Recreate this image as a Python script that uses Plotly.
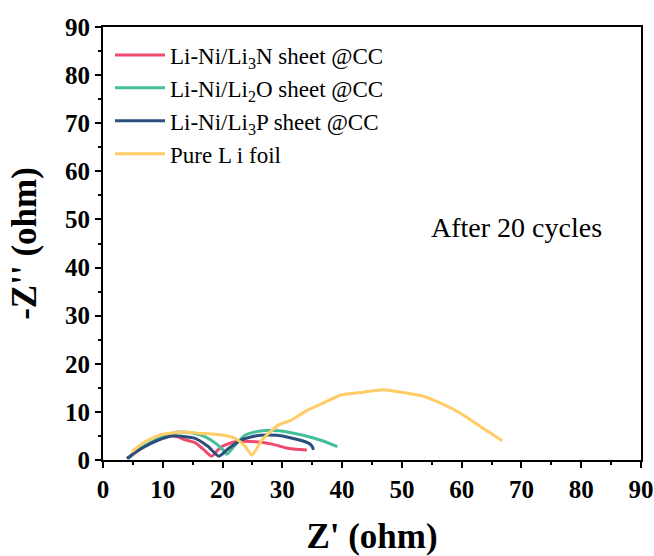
import plotly.graph_objects as go

# Nyquist data after 20 cycles (Z' and -Z'' in ohm)
li3n_x = [4.2, 5.5, 7.0, 9.0, 10.9, 12.5, 13.7, 15.4, 16.8, 18.2, 19.0, 19.9, 22.1, 25.5, 28.3, 31.1, 34.1]
li3n_y = [0.3, 1.6, 2.8, 4.2, 5.0, 4.8, 4.2, 3.6, 2.2, 0.8, 1.8, 2.8, 3.8, 3.8, 3.3, 2.4, 2.1]

li2o_x = [4.2, 5.5, 7.0, 9.0, 11.0, 12.6, 15.0, 17.1, 18.8, 20.0, 20.7, 22.1, 23.8, 26.6, 29.4, 33.3, 36.7, 39.2]
li2o_y = [0.3, 1.8, 3.0, 4.3, 5.3, 5.8, 5.6, 4.8, 3.5, 2.2, 1.2, 3.1, 5.2, 6.1, 6.1, 5.2, 4.0, 2.8]

li3p_x = [4.0, 5.3, 7.0, 9.0, 11.5, 13.5, 15.4, 17.6, 19.4, 21.0, 23.2, 26.0, 29.4, 32.7, 34.4, 35.0, 35.2]
li3p_y = [0.3, 1.5, 2.8, 4.0, 5.0, 4.9, 4.5, 2.8, 0.8, 2.4, 4.2, 5.1, 5.1, 4.2, 3.5, 2.8, 2.1]

li_x = [4.8, 7.0, 9.8, 13.2, 16.5, 19.9, 22.1, 23.8, 24.9, 26.6, 29.4, 31.5, 34.0, 36.8, 39.8, 43.5, 47.0,
        50.3, 53.7, 56.5, 59.8, 63.2, 66.8]
li_y = [1.7, 3.8, 5.3, 5.8, 5.5, 5.2, 4.5, 2.8, 1.0, 4.2, 7.3, 8.3, 10.2, 11.8, 13.5, 14.1, 14.6,
        14.0, 13.2, 11.8, 9.7, 6.9, 4.0]

series = [
    ("Li-Ni/Li<sub>3</sub>N sheet @CC", li3n_x, li3n_y, "#EE4A6E"),
    ("Li-Ni/Li<sub>2</sub>O sheet @CC", li2o_x, li2o_y, "#44BF9B"),
    ("Li-Ni/Li<sub>3</sub>P sheet @CC", li3p_x, li3p_y, "#2B4F7C"),
    ("Pure L i foil", li_x, li_y, "#FFCC66"),
]

ticks = list(range(0, 91, 10))
serif = "Liberation Serif, Times New Roman, serif"

fig = go.Figure()
for i, (name, xs, ys, color) in enumerate(series):
    fig.add_trace(go.Scatter(
        x=xs, y=ys, mode="lines", name=name, legendgroup=f"g{i}",
        line=dict(color=color, width=3, shape="spline", smoothing=0.6),
    ))

axis_common = dict(
    range=[0, 90], tickvals=ticks, showline=True, linecolor="black", linewidth=2,
    mirror=True, ticks="outside", ticklen=6, tickwidth=2, tickcolor="black",
    showgrid=False, zeroline=False, automargin=False,
    tickfont=dict(family=serif, size=25, color="black", weight="bold"),
    minor=dict(ticks="outside", ticklen=3, tickwidth=2, tickcolor="black", dtick=5, showgrid=False),
)

fig.update_layout(
    width=654, height=556,
    margin=dict(l=103, r=13, t=27, b=96),
    paper_bgcolor="white", plot_bgcolor="white",
    font=dict(family=serif, color="black"),
    xaxis=dict(**axis_common,
               title=dict(text="Z' (ohm)", font=dict(family=serif, size=35, weight="bold"), standoff=22)),
    yaxis=dict(**axis_common,
               title=dict(text="-Z'' (ohm)", font=dict(family=serif, size=35, weight="bold"), standoff=18)),
    legend=dict(x=0.013, y=0.985, xanchor="left", yanchor="top", bgcolor="rgba(0,0,0,0)",
                font=dict(family=serif, size=23, color="black"), tracegroupgap=0,
                itemwidth=50),
    showlegend=True,
)

fig.add_annotation(text="After 20 cycles", x=0.768, y=0.538, xref="paper", yref="paper",
                   xanchor="center", yanchor="middle",
                   showarrow=False, font=dict(family=serif, size=28, color="black"))

fig.write_html("out.html")
